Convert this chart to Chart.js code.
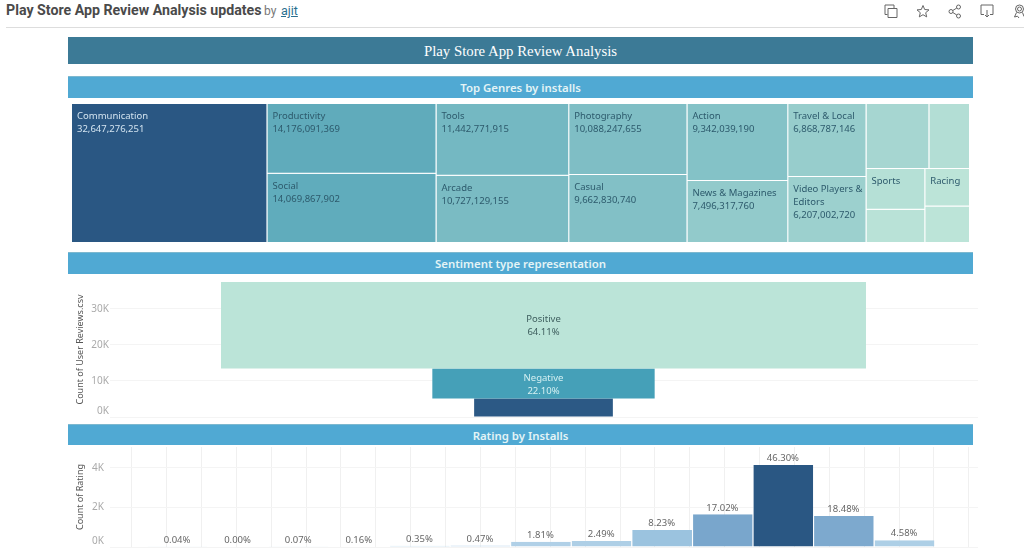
<!DOCTYPE html>
<html>
<head>
<meta charset="utf-8">
<title>Play Store App Review Analysis</title>
<script src="https://cdn.jsdelivr.net/npm/chart.js@4/dist/chart.umd.min.js"></script>
<style>
  html, body { margin: 0; background: #fff; width: 1024px; height: 550px; overflow: hidden; font-family: "Noto Sans", sans-serif; }
  .abs { position: absolute; }
  canvas { position: absolute; display: block; }
  #heading { left: 6px; top: 0; font: bold 14.2px/21px Roboto, sans-serif; color: #4a4a4a; white-space: nowrap; }
  #heading span { font-weight: normal; font-size: 12px; color: #777; margin-left: -1px; }
  #heading a { font-weight: normal; font-size: 12.5px; color: #2b6f8f; text-decoration: underline; margin-left: 1px; }
  #rule { left: 6px; right: 0; top: 27px; height: 1px; background: #ddd; }
  .banner { left: 68px; width: 905px; text-align: center; color: #e4f4f6; font-weight: 600; font-size: 11.4px; background: #50a9d3; box-sizing: border-box; border-top: 1px solid #7db8cf; }
  #mainTitle { top: 37px; height: 27px; background: #3c7a96; border: 0; color: #fff; font: 14.8px/29px "Liberation Serif", serif; }
  #b1 { top: 76px; height: 22px; line-height: 22px; }
  #b2 { top: 252px; height: 22px; line-height: 22px; }
  #b3 { top: 424px; height: 21px; line-height: 21px; }
  svg.icon { position: absolute; top: 4px; fill: none; stroke: #666; stroke-width: 1; }
</style>
</head>
<body>
<div class="abs" id="heading">Play Store App Review Analysis updates <span>by</span> <a>ajit</a></div>
<div class="abs" id="rule"></div>
<svg class="icon" style="left:884px" width="14" height="15"><path d="M3.5 10.5H1V1h9v3M4 4.5h9v9H4z"/></svg>
<svg class="icon" style="left:916px" width="14" height="15"><path d="M7 1.5l1.7 4 4.3.4-3.3 2.8 1 4.2L7 10.7l-3.7 2.2 1-4.2L1 5.9l4.3-.4z"/></svg>
<svg class="icon" style="left:948px" width="14" height="15"><circle cx="3" cy="7.5" r="2"/><circle cx="10.5" cy="3" r="2"/><circle cx="10.5" cy="12" r="2"/><path d="M4.8 6.5l4-2.5M4.8 8.5l4 2.5"/></svg>
<svg class="icon" style="left:980px" width="14" height="15"><path d="M4 10.5H1V1h12v9.5h-3M7 6v7M5 11l2 2 2-2"/></svg>
<svg class="icon" style="left:1013px" width="11" height="15"><circle cx="6.5" cy="5" r="4"/><circle cx="6.5" cy="5" r="2"/><path d="M3.5 8.5L1.5 13l3-.8 1.5 1.8M9.5 8.5l1.5 4"/></svg>

<div class="abs banner" id="mainTitle">Play Store App Review Analysis</div>
<div class="abs banner" id="b1">Top Genres by installs</div>
<div class="abs banner" id="b2">Sentiment type representation</div>
<div class="abs banner" id="b3">Rating by Installs</div>

<canvas id="treeChart" width="898" height="139" style="left:72px;top:104px;width:898px;height:139px"></canvas>
<canvas id="sentimentChart" width="910" height="141" style="left:68px;top:282px;width:910px;height:141px"></canvas>
<canvas id="ratingChart" width="910" height="103" style="left:68px;top:447px;width:910px;height:103px"></canvas>

<script>
const genres = ["Communication", "Productivity", "Social", "Tools", "Arcade", "Photography", "Casual", "Action",
  "News & Magazines", "Travel & Local", "Video Players &\nEditors", "", "", "Sports", "", "Racing", ""];
const genreInstalls = [32647276251, 14176091369, 14069867902, 11442771915, 10727129155, 10088247655, 9662830740,
  9342039190, 7496317760, 6868787146, 6207002720, 4920000000, 3180000000, 2870000000, 2350000000, 2010000000, 1960000000];
// which genres sit together in the treemap, sides alternate at each level
const genreTree = [[0], [1, 2], [3, 4], [5, 6], [7, 8], [9, 10], [[11, 12], [[13, 14], [15, 16]]]];

const sentimentTypes = ["Neutral", "Negative", "Positive"];
const sentimentCounts = [5163, 8271, 23998];
const sentimentShares = [13.79, 22.10, 64.11];
const sentimentTicks = [0, 10000, 20000, 30000];

const ratingBins = [0.86, 1.207, 1.555, 1.902, 2.25, 2.597, 2.944, 3.292, 3.639, 3.987, 4.334, 4.681, 5.029];
const ratingCounts = [10, 0, 10, 30, 60, 80, 270, 300, 860, 1650, 4140, 1565, 340];
const ratingLabels = ["0.04%", "0.00%", "0.07%", "0.16%", "0.35%", "0.47%", "1.81%", "2.49%", "8.23%", "17.02%", "46.30%", "18.48%", "4.58%"];
const ratingTicks = [0, 2000, 4000];
const ratingBinWidth = 0.3474;

const sans = "'Noto Sans', sans-serif";

function hexRgb(h) { return [1, 3, 5].map(i => parseInt(h.substr(i, 2), 16)); }
function ramp(t, stops) {
  for (let i = 1; i < stops.length; i++) {
    if (t <= stops[i][0]) {
      const f = (t - stops[i - 1][0]) / (stops[i][0] - stops[i - 1][0]);
      const a = hexRgb(stops[i - 1][1]), b = hexRgb(stops[i][1]);
      return "rgb(" + a.map((c, k) => Math.round(c + (b[k] - c) * f)).join(",") + ")";
    }
  }
  return stops[stops.length - 1][1];
}

// bar whose width comes from its own x0..x1, on the x scale
class SpanBarController extends Chart.BarController {
  _calculateBarIndexPixels(index) {
    const d = this.getDataset().data[index];
    const xs = this._cachedMeta.iScale;
    const a = xs.getPixelForValue(d.x0), b = xs.getPixelForValue(d.x1);
    return { size: Math.abs(b - a), head: Math.min(a, b), center: (a + b) / 2 };
  }
}
SpanBarController.id = "spanBar";
Chart.register(SpanBarController);

function treeSum(node) {
  return Array.isArray(node) ? node.reduce((s, n) => s + treeSum(n), 0) : genreInstalls[node];
}
function layoutTree(node, x0, x1, y0, y1, across, out) {
  if (!Array.isArray(node)) {
    out[node] = { x: (x0 + x1) / 2, x0: x0, x1: x1, y: [y0, y1] };
    return out;
  }
  const total = treeSum(node);
  let pos = across ? x0 : y0;
  node.forEach(child => {
    const size = treeSum(child) / total * (across ? x1 - x0 : y1 - y0);
    if (across) layoutTree(child, pos, pos + size, y0, y1, false, out);
    else layoutTree(child, x0, x1, pos, pos + size, true, out);
    pos += size;
  });
  return out;
}

const installTotal = treeSum(genreTree);
const treeCells = layoutTree(genreTree, 0, installTotal, 0, 1, true, []);
const treeStops = [[0, "#bce4d8"], [0.5, "#489db4"], [1, "#2a5783"]];
const maxInstalls = Math.max(...genreInstalls);
const minInstalls = Math.min(...genreInstalls);

new Chart(document.getElementById("treeChart"), {
  type: "spanBar",
  data: {
    labels: genres,
    datasets: [{
      data: treeCells,
      backgroundColor: genreInstalls.map(v => ramp((v - minInstalls) / (maxInstalls - minInstalls), treeStops)),
      borderColor: "rgba(255,255,255,0.85)",
      borderWidth: { left: 0, top: 0, right: 1, bottom: 1 },
      borderSkipped: false
    }]
  },
  options: {
    responsive: false,
    animation: false,
    layout: { padding: 0 },
    plugins: { legend: { display: false }, tooltip: { enabled: false } },
    scales: {
      x: { type: "linear", offset: false, min: 0, max: installTotal, display: false },
      y: { reverse: true, min: 0, max: 1, beginAtZero: false, display: false }
    }
  },
  plugins: [{
    id: "cellText",
    afterDatasetsDraw(chart) {
      const ctx = chart.ctx;
      ctx.save();
      ctx.font = "9.5px " + sans;
      ctx.textBaseline = "middle";
      chart.getDatasetMeta(0).data.forEach((cell, i) => {
        if (!genres[i]) return;
        const left = cell.x - cell.width / 2 + 5;
        const top = Math.min(cell.y, cell.base) + 12.5;
        const number = genreInstalls[i].toLocaleString("en-US");
        const lines = genres[i].split("\n");
        if (ctx.measureText(number).width < cell.width - 8) lines.push(number);
        ctx.fillStyle = i === 0 ? "#d3e4f0" : "#2d5a6c";
        lines.forEach((line, k) => ctx.fillText(line, left, top + k * 13));
      });
      ctx.restore();
    }
  }]
});

// stacked from the bottom, width follows the share
let sentimentBase = 0;
const sentimentBars = sentimentCounts.map((count, i) => {
  const bar = { x: 0, x0: -sentimentShares[i] / 2, x1: sentimentShares[i] / 2, y: [sentimentBase, sentimentBase + count] };
  sentimentBase += count;
  return bar;
});

function yTick(v) { return v === 0 ? ["0K", ""] : v / 1000 + "K"; }
function useTicks(values) {
  return scale => { scale.ticks = values.map(v => ({ value: v })); };
}

new Chart(document.getElementById("sentimentChart"), {
  type: "spanBar",
  data: {
    labels: sentimentTypes,
    datasets: [{
      data: sentimentBars,
      backgroundColor: ["#2c5985", "#45a0b8", "#bbe4d8"]
    }]
  },
  options: {
    responsive: false,
    animation: false,
    layout: { padding: { bottom: 6 } },
    plugins: { legend: { display: false }, tooltip: { enabled: false } },
    scales: {
      x: { type: "linear", offset: false, min: -43.09, max: 43.19, display: false },
      y: {
        min: 0,
        max: sentimentBase,
        afterBuildTicks: useTicks(sentimentTicks),
        afterFit(scale) { scale.width = 42; scale.paddingBottom = 0; scale.paddingTop = 0; },
        border: { display: false },
        grid: { color: "#f4f4f4", drawTicks: false },
        ticks: { padding: 1, color: "#aaa", font: { family: sans, size: 10 }, callback: yTick },
        title: { display: true, text: "Count of User Reviews.csv", color: "#555", padding: { top: 7, bottom: 0 }, font: { family: sans, size: 9 } }
      }
    }
  },
  plugins: [{
    id: "sentimentText",
    afterDatasetsDraw(chart) {
      const ctx = chart.ctx;
      ctx.save();
      ctx.font = "9.5px " + sans;
      ctx.textAlign = "center";
      ctx.textBaseline = "middle";
      chart.getDatasetMeta(0).data.forEach((bar, i) => {
        if (sentimentTypes[i] === "Neutral") return;
        const mid = (bar.y + bar.base) / 2 + 1;
        ctx.fillStyle = sentimentTypes[i] === "Positive" ? "#3f5f5f" : "#d5f0f2";
        ctx.fillText(sentimentTypes[i], bar.x, mid - 6.5);
        ctx.fillText(sentimentShares[i].toFixed(2) + "%", bar.x, mid + 6.5);
      });
      ctx.restore();
    }
  }]
});

const ratingStops = [[0, "#b9d6ea"], [0.2, "#9cc4e0"], [0.4, "#79a6cc"], [1, "#2a5783"]];
const maxRating = Math.max(...ratingCounts);

new Chart(document.getElementById("ratingChart"), {
  type: "spanBar",
  data: {
    labels: ratingLabels,
    datasets: [{
      data: ratingBins.map((bin, i) => ({ x: bin, x0: bin - ratingBinWidth / 2, x1: bin + ratingBinWidth / 2, y: ratingCounts[i] })),
      backgroundColor: ratingCounts.map(v => ramp(v / maxRating, ratingStops)),
      borderColor: "#ffffff",
      borderWidth: { left: 1, right: 0, top: 0, bottom: 0 },
      borderSkipped: false
    }]
  },
  options: {
    responsive: false,
    animation: false,
    layout: { padding: { bottom: 3 } },
    plugins: { legend: { display: false }, tooltip: { enabled: false } },
    scales: {
      x: {
        type: "linear",
        offset: false,
        min: 0.4756,
        max: 5.4527,
        border: { display: false },
        grid: { offset: false, color: "#f0f0f0", drawTicks: false },
        ticks: { stepSize: 0.2, includeBounds: false, display: false },
        afterFit(scale) { scale.height = 0; }
      },
      y: {
        min: 0,
        max: 5050,
        afterBuildTicks: useTicks(ratingTicks),
        afterFit(scale) { scale.width = 42; scale.paddingBottom = 0; scale.paddingTop = 0; },
        border: { display: false },
        grid: { color: "#f4f4f4", drawTicks: false },
        ticks: { padding: 6, color: "#aaa", font: { family: sans, size: 10 }, callback: yTick },
        title: { display: true, text: "Count of Rating", color: "#555", padding: { top: 7, bottom: 0 }, font: { family: sans, size: 9 } }
      }
    }
  },
  plugins: [{
    id: "ratingText",
    afterDatasetsDraw(chart) {
      const ctx = chart.ctx;
      ctx.save();
      ctx.font = "9.5px " + sans;
      ctx.fillStyle = "#666";
      ctx.textAlign = "center";
      ctx.textBaseline = "middle";
      chart.getDatasetMeta(0).data.forEach((bar, i) => ctx.fillText(ratingLabels[i], bar.x, bar.y - 6.5));
      ctx.restore();
    }
  }]
});
</script>
</body>
</html>
